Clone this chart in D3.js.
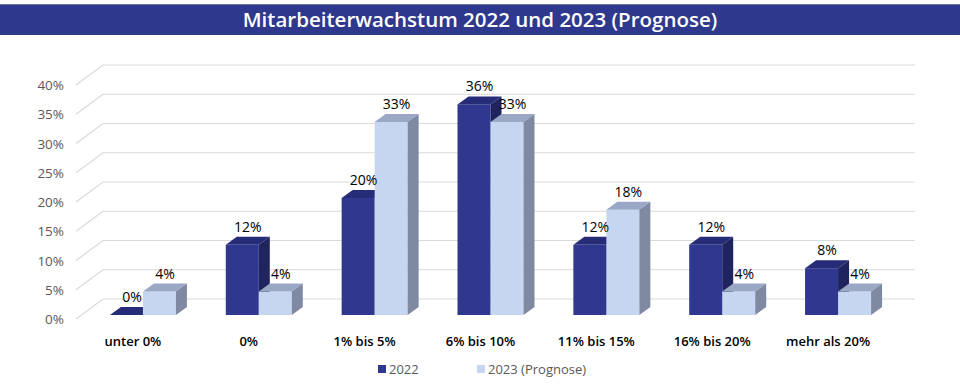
<!DOCTYPE html>
<html>
  <head>
    <meta charset="utf-8">
    <title></title>
    <style type="text/css">
        html, body{
            padding: 0px;
            margin: 0px;
            background: #fff;
        }
        svg text{
            font-family: "Open Sans", "Noto Sans", sans-serif;
        }
    </style>
  </head>
  <body>
    <div id="vis"></div>
    <script src="https://cdnjs.cloudflare.com/ajax/libs/d3/7.8.5/d3.min.js"></script>
    <script type="text/javascript">

        // data
        var categories = ["unter 0%", "0%", "1% bis 5%", "6% bis 10%", "11% bis 15%", "16% bis 20%", "mehr als 20%"]
        var series = ["2022", "2023 (Prognose)"]
        var values2022 = [0, 12, 20, 36, 12, 12, 8]
        var values2023 = [4, 4, 33, 33, 18, 4, 4]
        var yTicks = [0, 5, 10, 15, 20, 25, 30, 35, 40]

        var width = 960, height = 388

        // colours: front, top, side
        var colors = [
            {front: "#2f378f", top: "#262c78", side: "#1f245e"},
            {front: "#c6d5f0", top: "#9aa8c6", side: "#7f8aa2"}
        ]

        var svg = d3.select("#vis").append("svg")
            .attr("width", width)
            .attr("height", height)

        // title bar
        svg.append("rect")
            .attr("x", 0).attr("y", 4)
            .attr("width", width).attr("height", 31)
            .attr("fill", "#2e388c")
        svg.append("line")
            .attr("x1", 0).attr("x2", width)
            .attr("y1", 4.5).attr("y2", 4.5)
            .attr("stroke", "#6a70a0")
        svg.append("text")
            .attr("x", width / 2).attr("y", 27)
            .attr("text-anchor", "middle")
            .attr("fill", "#fff")
            .attr("font-size", "20.5px")
            .attr("font-weight", 600)
            .text("Mitarbeiterwachstum 2022 und 2023 (Prognose)")

        // wall depth and bar depth
        var wallDx = 27, wallDy = 20
        var barDx = 11, barDy = 8

        // back wall scale
        var yBack = d3.scaleLinear().domain([0, 40]).range([299, 65])
        // bar scale (bars stand a bit in front of the back wall)
        var yBar = d3.scaleLinear().domain([0, 40]).range([315, 81])

        var xBack0 = 103, xBack1 = 915

        var x = d3.scaleBand()
            .domain(categories)
            .range([85, 896])
            .paddingInner(0)
            .paddingOuter(0)

        var barW = 33

        // gridlines
        var grid = svg.append("g")
        yTicks.forEach(function(t) {
            var yb = yBack(t)
            grid.append("path")
                .attr("d", "M" + (xBack0 - wallDx) + "," + (yb + wallDy) + "L" + xBack0 + "," + yb + "L" + xBack1 + "," + yb)
                .attr("fill", "none")
                .attr("stroke", "#d9d9d9")
                .attr("stroke-width", 1.2)
        })

        // y labels
        svg.append("g").selectAll("text")
            .data(yTicks)
            .join("text")
            .attr("x", 64)
            .attr("y", function(d) { return yBack(d) + wallDy + 5; })
            .attr("text-anchor", "end")
            .attr("fill", "#595959")
            .attr("font-size", "13.5px")
            .text(function(d) { return d + "%"; })

        // bars
        var bars = svg.append("g")
        var allValues = [values2022, values2023]

        categories.forEach(function(c, i) {
            var cx = x(c) + x.bandwidth() / 2
            allValues.forEach(function(vals, s) {
                var v = vals[i]
                var x0 = cx - barW + s * barW
                var x1 = x0 + barW
                var y0 = yBar(0)
                var y1 = yBar(v)
                var col = colors[s]
                var g = bars.append("g")
                // front
                g.append("rect")
                    .attr("x", x0).attr("y", y1)
                    .attr("width", barW).attr("height", y0 - y1)
                    .attr("fill", col.front)
                // top
                g.append("path")
                    .attr("d", "M" + x0 + "," + y1 + "L" + (x0 + barDx) + "," + (y1 - barDy) +
                        "L" + (x1 + barDx) + "," + (y1 - barDy) + "L" + x1 + "," + y1 + "Z")
                    .attr("fill", col.top)
                // side
                g.append("path")
                    .attr("d", "M" + x1 + "," + y1 + "L" + (x1 + barDx) + "," + (y1 - barDy) +
                        "L" + (x1 + barDx) + "," + (y0 - barDy) + "L" + x1 + "," + y0 + "Z")
                    .attr("fill", col.side)
            })
        })

        // data labels
        categories.forEach(function(c, i) {
            var cx = x(c) + x.bandwidth() / 2
            allValues.forEach(function(vals, s) {
                var v = vals[i]
                var lx = cx - barW / 2 + s * barW + barDx / 2
                bars.append("text")
                    .attr("x", lx)
                    .attr("y", yBar(v) - barDy - 5)
                    .attr("text-anchor", "middle")
                    .attr("fill", "#000")
                    .attr("font-size", "14px")
                    .text(v + "%")
            })
        })

        // category labels
        svg.append("g").selectAll("text")
            .data(categories)
            .join("text")
            .attr("x", function(d) { return x(d) + x.bandwidth() / 2 - 10; })
            .attr("y", 346)
            .attr("text-anchor", "middle")
            .attr("fill", "#000")
            .attr("font-size", "13px")
            .attr("font-weight", 600)
            .text(function(d) { return d; })

        // legend
        var legendX = [378, 477]
        var legend = svg.append("g")
        series.forEach(function(name, s) {
            legend.append("rect")
                .attr("x", legendX[s]).attr("y", 365)
                .attr("width", 8).attr("height", 8)
                .attr("fill", colors[s].front)
            legend.append("text")
                .attr("x", legendX[s] + 11).attr("y", 373.5)
                .attr("fill", "#595959")
                .attr("font-size", "13px")
                .text(name)
        })

    </script>
  </body>
</html>
